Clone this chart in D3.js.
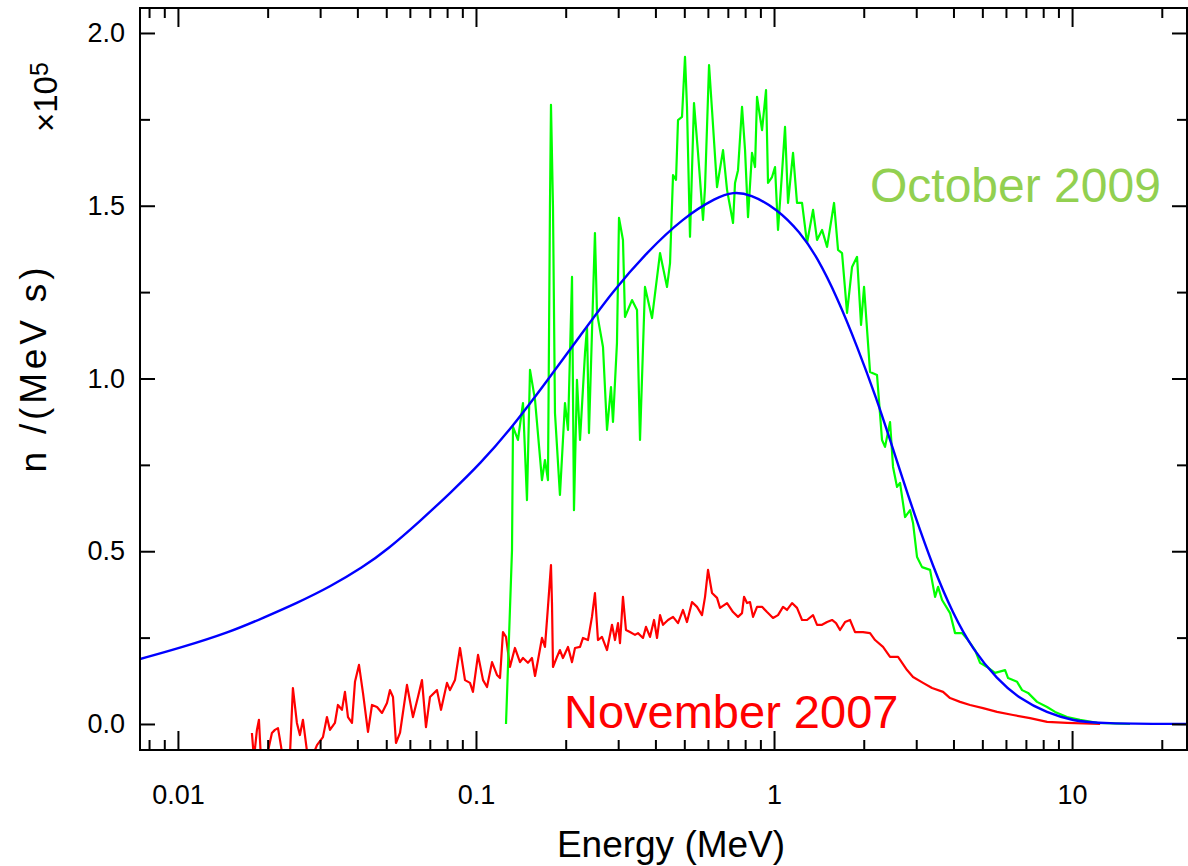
<!DOCTYPE html>
<html>
<head>
<meta charset="utf-8">
<script src="https://cdn.jsdelivr.net/npm/d3@7"></script>
<style>
  body { margin: 0; background: #fff; }
  svg { display: block; }
</style>
</head>
<body>
<svg id="chart" width="1188" height="866"></svg>
<script>
// ---- Data (energy in MeV, n/(MeV s) in units of 1e5) ----
const october2009 = [
  [0.1261,0],[0.1321,0.504],[0.1331,0.860],[0.1383,0.822],[0.1438,0.929],[0.1483,0.648],[0.1518,1.025],[0.1578,0.938],
  [0.1665,0.706],[0.1704,0.764],[0.1744,0.706],[0.1771,1.496],[0.1785,1.792],[0.1813,1.496],[0.1841,0.900],[0.1913,0.663],
  [0.1989,0.929],[0.2036,0.851],[0.2100,1.294],[0.2132,0.619],[0.2182,0.996],[0.2234,0.822],[0.2322,1.074],[0.2358,1.149],
  [0.2394,0.842],[0.2507,1.421],[0.2547,1.190],[0.2668,1.091],[0.2752,0.851],[0.2838,0.975],[0.2882,0.874],[0.2972,1.103],
  [0.3019,1.465],[0.3113,1.401],[0.3162,1.178],[0.3338,1.227],[0.3470,1.198],[0.3551,0.822],[0.3690,1.265],[0.3896,1.175],
  [0.4145,1.363],[0.4375,1.265],[0.4478,1.334],[0.4583,1.589],[0.4690,1.575],[0.4763,1.748],[0.4912,1.757],[0.5027,1.931],
  [0.5105,1.786],[0.5225,1.410],[0.5389,1.797],[0.5559,1.653],[0.5778,1.459],[0.5869,1.554],[0.6053,1.907],[0.6194,1.777],
  [0.6438,1.554],[0.6744,1.661],[0.6956,1.546],[0.7286,1.450],[0.7399,1.566],[0.7572,1.603],[0.7810,1.786],[0.7994,1.661],
  [0.8180,1.467],[0.8436,1.653],[0.8635,1.612],[0.8770,1.815],[0.9116,1.719],[0.9401,1.835],[0.9547,1.566],[0.9847,1.583],
  [1.0078,1.612],[1.0314,1.430],[1.0637,1.595],[1.0887,1.728],[1.1144,1.508],[1.1582,1.653],[1.1944,1.508],[1.2416,1.508],
  [1.2904,1.392],[1.3518,1.488],[1.3943,1.401],[1.4493,1.430],[1.5064,1.381],[1.5899,1.508],[1.6398,1.372],[1.6912,1.363],
  [1.7579,1.190],[1.8272,1.323],[1.8991,1.352],[1.9587,1.155],[2.0045,1.265],[2.0997,1.019],[2.2160,1.010],[2.3034,0.822],
  [2.3575,0.802],[2.4506,0.874],[2.5079,0.744],[2.5868,0.686],[2.6472,0.698],[2.7518,0.599],[2.8605,0.619],[2.9271,0.582],
  [3.0192,0.483],[3.1377,0.454],[3.3385,0.446],[3.4699,0.368],[3.5511,0.397],[3.6630,0.359],[3.8962,0.321],[4.0497,0.263],
  [4.2745,0.263],[4.4771,0.243],[4.7263,0.214],[4.9125,0.177],[5.1860,0.165],[5.5142,0.148],[5.9607,0.156],[6.0994,0.133],
  [6.5387,0.122],[6.7965,0.098],[7.1183,0.090],[7.6296,0.064],[8.2453,0.049],[8.7700,0.035],[9.6210,0.020],[10.636,0.012],
  [12.133,0.003],[15.65,0]
];

const november2007 = [
  [0.01771,-0.026],[0.01799,-0.10],[0.01841,-0.017],[0.01870,0.012],[0.01899,-0.10],[0.01958,-0.12],[0.02067,-0.026],
  [0.02116,-0.017],[0.02166,-0.012],[0.02200,-0.046],[0.02251,-0.10],[0.02376,-0.09],[0.02431,0.104],[0.02507,0.003],
  [0.02566,-0.032],[0.02627,0.012],[0.02730,-0.10],[0.02838,-0.09],[0.02928,-0.061],[0.03066,-0.038],[0.03162,0.020],
  [0.03236,-0.017],[0.03363,0.003],[0.03442,0.055],[0.03551,0.041],[0.03634,0.093],[0.03720,0.020],[0.03837,0.003],
  [0.03927,0.122],[0.04050,0.171],[0.04177,0.090],[0.04342,-0.023],[0.04478,0.055],[0.04655,0.049],[0.04838,0.032],
  [0.05028,0.061],[0.05146,0.098],[0.05267,0.078],[0.05390,-0.055],[0.05559,-0.026],[0.05868,0.113],[0.06146,0.020],
  [0.06388,0.078],[0.06589,0.127],[0.06796,-0.009],[0.07009,0.078],[0.07399,0.098],[0.07632,0.041],[0.07993,0.119],
  [0.08180,0.098],[0.08502,0.127],[0.08838,0.220],[0.09186,0.127],[0.09548,0.119],[0.09770,0.093],[0.1016,0.200],
  [0.1056,0.127],[0.1089,0.107],[0.1132,0.179],[0.1176,0.142],[0.1204,0.133],[0.1232,0.266],[0.1261,0.252],[0.1300,0.165],
  [0.1351,0.220],[0.1405,0.179],[0.1438,0.191],[0.1494,0.177],[0.1541,0.191],[0.1578,0.139],[0.1615,0.185],[0.1665,0.249],
  [0.1704,0.223],[0.1744,0.339],[0.1785,0.460],[0.1799,0.350],[0.1813,0.165],[0.1870,0.194],[0.1913,0.214],[0.1958,0.191],
  [0.2036,0.223],[0.2100,0.179],[0.2149,0.220],[0.2234,0.223],[0.2286,0.249],[0.2376,0.243],[0.2450,0.310],[0.2507,0.379],
  [0.2566,0.243],[0.2647,0.252],[0.2752,0.214],[0.2860,0.287],[0.2927,0.243],[0.2996,0.292],[0.3042,0.234],[0.3113,0.368],
  [0.3186,0.272],[0.3286,0.266],[0.3416,0.258],[0.3496,0.263],[0.3634,0.249],[0.3719,0.281],[0.3836,0.252],[0.3957,0.301],
  [0.4050,0.249],[0.4145,0.315],[0.4242,0.287],[0.4409,0.301],[0.4583,0.310],[0.4763,0.292],[0.4951,0.330],[0.5105,0.295],
  [0.5307,0.353],[0.5516,0.339],[0.5733,0.315],[0.5869,0.368],[0.6006,0.446],[0.6194,0.379],[0.6438,0.365],[0.6589,0.336],
  [0.6956,0.350],[0.7286,0.324],[0.7572,0.310],[0.7810,0.321],[0.7932,0.368],[0.8117,0.350],[0.8306,0.353],[0.8503,0.310],
  [0.8770,0.339],[0.9116,0.339],[0.9474,0.324],[0.9923,0.307],[1.0314,0.315],[1.0720,0.339],[1.1055,0.330],[1.1494,0.350],
  [1.1944,0.336],[1.2416,0.301],[1.2904,0.301],[1.3518,0.315],[1.3943,0.287],[1.4493,0.287],[1.5064,0.295],[1.5655,0.301],
  [1.6145,0.292],[1.6651,0.272],[1.7308,0.295],[1.7989,0.301],[1.8700,0.266],[1.9888,0.266],[2.0997,0.263],[2.1827,0.243],
  [2.3212,0.223],[2.4506,0.194],[2.6070,0.194],[2.7946,0.156],[2.9271,0.136],[3.1623,0.119],[3.3903,0.104],[3.6914,0.093],
  [3.8962,0.075],[4.2086,0.064],[4.5471,0.055],[5.0263,0.046],[5.601,0.035],[6.3387,0.026],[7.2279,0.017],[8.2453,0.006],
  [9.6210,0.003],[12.42,0]
];

const modelFit = [
  [0.00746,0.188],[0.01016,0.220],[0.01494,0.266],[0.01929,0.307],[0.02507,0.350],[0.03236,0.397],[0.04177,0.454],
  [0.0503,0.504],[0.0649,0.587],[0.0818,0.668],[0.1031,0.752],[0.1331,0.862],[0.1731,0.993],[0.2234,1.123],[0.2882,1.253],
  [0.3749,1.366],[0.4951,1.465],[0.6436,1.525],[0.7286,1.540],[0.8306,1.534],[1.023,1.491],[1.222,1.424],[1.394,1.352],
  [1.627,1.236],[1.899,1.094],[2.216,0.938],[2.451,0.822],[2.710,0.706],[2.927,0.619],[3.417,0.454],[3.988,0.318],
  [4.654,0.214],[5.601,0.130],[6.692,0.072],[8.245,0.032],[10.08,0.009],[12.42,0.0015],[24.3,0]
];

const xMajorTicks = [0.01, 0.1, 1, 10];
const xTickLabels = ["0.01", "0.1", "1", "10"];
const xMinorTicks = [0.008,0.009,0.02,0.03,0.04,0.05,0.06,0.07,0.08,0.09,0.2,0.3,0.4,0.5,0.6,0.7,0.8,0.9,2,3,4,5,6,7,8,9,20];
const yMajorTicks = [0, 0.5, 1.0, 1.5, 2.0];
const yMinorTicks = [0.25, 0.75, 1.25, 1.75];

// ---- Layout ----
const L = 140, R = 1187, T = 8, B = 750;
const svg = d3.select("#chart");
const x = d3.scaleLog().domain([0.00746, 24.3]).range([L, R]);
const y = d3.scaleLinear().domain([-0.0753, 2.0723]).range([B, T]);

svg.append("defs").append("clipPath").attr("id", "plotclip")
  .append("rect").attr("x", L).attr("y", T).attr("width", R - L).attr("height", B - T);

const line = d3.line().x(d => x(d[0])).y(d => y(d[1]));
const smooth = d3.line().x(d => x(d[0])).y(d => y(d[1])).curve(d3.curveBasis);

const plot = svg.append("g").attr("clip-path", "url(#plotclip)");
plot.append("path").datum(november2007).attr("d", line)
  .attr("fill", "none").attr("stroke", "#ff0000").attr("stroke-width", 2.2).attr("stroke-linejoin", "round");
plot.append("path").datum(october2009).attr("d", line)
  .attr("fill", "none").attr("stroke", "#00ff00").attr("stroke-width", 2.2).attr("stroke-linejoin", "round");
plot.append("path").datum(modelFit).attr("d", smooth)
  .attr("fill", "none").attr("stroke", "#0000ff").attr("stroke-width", 2.4);

// ---- Axes ----
const tickFont = "'Liberation Sans', Arial, sans-serif";
function styleAxis(g) {
  g.select(".domain").remove();
  g.selectAll(".tick line").attr("stroke", "#000").attr("stroke-width", 2);
  g.selectAll(".tick text").attr("fill", "#000").style("font-family", tickFont).style("font-size", "27px");
}
svg.append("g").attr("transform", `translate(0,${B})`)
  .call(d3.axisBottom(x).tickValues(xMajorTicks).tickFormat((d, i) => xTickLabels[i])
    .tickSizeInner(-19).tickSizeOuter(0).tickPadding(35)).call(styleAxis);
svg.append("g").attr("transform", `translate(0,${B})`)
  .call(d3.axisBottom(x).tickValues(xMinorTicks).tickFormat("").tickSizeInner(-10).tickSizeOuter(0)).call(styleAxis);
svg.append("g").attr("transform", `translate(0,${T})`)
  .call(d3.axisTop(x).tickValues(xMajorTicks).tickFormat("").tickSizeInner(-19).tickSizeOuter(0)).call(styleAxis);
svg.append("g").attr("transform", `translate(0,${T})`)
  .call(d3.axisTop(x).tickValues(xMinorTicks).tickFormat("").tickSizeInner(-10).tickSizeOuter(0)).call(styleAxis);

svg.append("g").attr("transform", `translate(${L},0)`)
  .call(d3.axisLeft(y).tickValues(yMajorTicks).tickFormat(d3.format(".1f"))
    .tickSizeInner(-15).tickSizeOuter(0).tickPadding(15)).call(styleAxis);
svg.append("g").attr("transform", `translate(${L},0)`)
  .call(d3.axisLeft(y).tickValues(yMinorTicks).tickFormat("").tickSizeInner(-10).tickSizeOuter(0)).call(styleAxis);
svg.append("g").attr("transform", `translate(${R},0)`)
  .call(d3.axisRight(y).tickValues(yMajorTicks).tickFormat("").tickSizeInner(-15).tickSizeOuter(0)).call(styleAxis);
svg.append("g").attr("transform", `translate(${R},0)`)
  .call(d3.axisRight(y).tickValues(yMinorTicks).tickFormat("").tickSizeInner(-10).tickSizeOuter(0)).call(styleAxis);

svg.append("rect").attr("x", L).attr("y", T).attr("width", R - L).attr("height", B - T)
  .attr("fill", "none").attr("stroke", "#000").attr("stroke-width", 2);

// ---- Titles & labels ----
svg.append("text").attr("x", 671).attr("y", 857).attr("text-anchor", "middle")
  .style("font-family", tickFont).style("font-size", "37px").attr("fill", "#000")
  .text("Energy (MeV)");

svg.append("text").attr("transform", "translate(46,370) rotate(-90)").attr("text-anchor", "middle")
  .style("font-family", tickFont).style("font-size", "37px").attr("fill", "#000")
  .attr("textLength", 205).attr("lengthAdjust", "spacing")
  .text("n /(MeV s)");

const mult = svg.append("text").attr("transform", "translate(57,132) rotate(-90)")
  .style("font-family", tickFont).style("font-size", "33px").attr("fill", "#000");
mult.append("tspan").text("×10");
mult.append("tspan").attr("dy", "-0.35em").style("font-size", "25px").text("5");

svg.append("text").attr("x", 870).attr("y", 202)
  .style("font-family", tickFont).style("font-size", "48px").attr("fill", "#92d050")
  .text("October 2009");
svg.append("text").attr("x", 564).attr("y", 728)
  .style("font-family", tickFont).style("font-size", "47px").attr("fill", "#ff0000")
  .text("November 2007");
</script>
</body>
</html>
